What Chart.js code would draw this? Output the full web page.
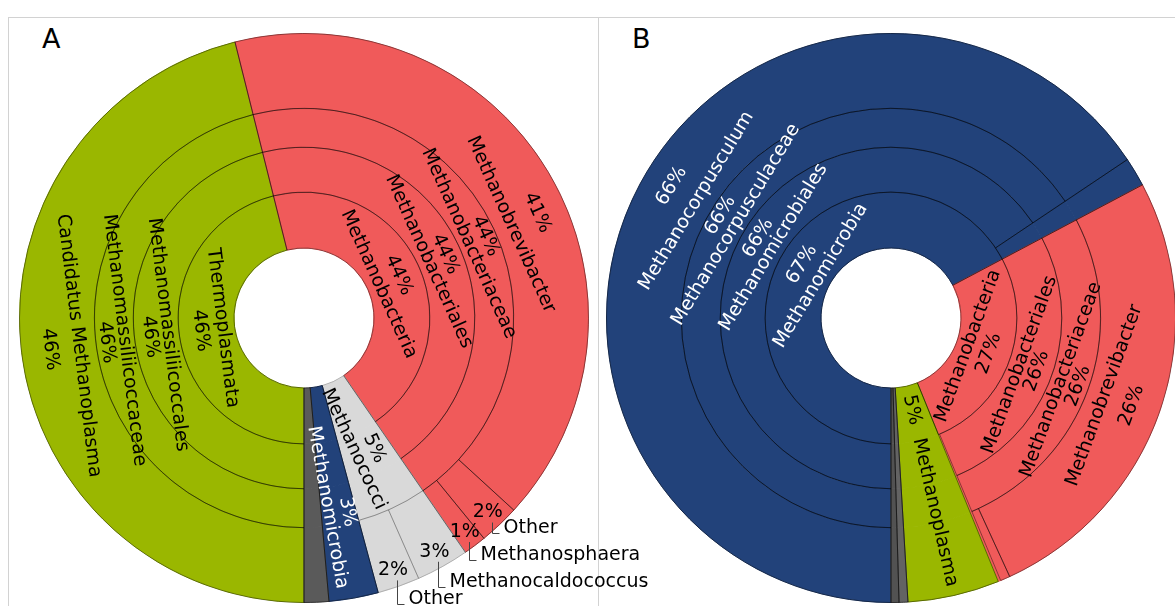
<!DOCTYPE html>
<html><head><meta charset="utf-8">
<script src="https://cdn.jsdelivr.net/npm/chart.js@4/dist/chart.umd.min.js"></script>
<style>
html,body{margin:0;padding:0;background:#fff;width:1175px;height:606px;overflow:hidden;position:relative;font-family:"DejaVu Sans",sans-serif;}
.frame{position:absolute;border:1px solid #d2d2d2;border-bottom:none;box-sizing:border-box;}
.tag{position:absolute;font-size:27px;line-height:27px;color:#000;font-family:"DejaVu Sans",sans-serif;}
canvas{position:absolute;left:0;top:0;}
</style></head><body>
<div class="frame" style="left:8px;top:17px;width:591px;height:600px;"></div>
<div class="frame" style="left:598px;top:17px;width:600px;height:600px;border-left:none;border-right:none"></div>
<div class="tag" style="left:42px;top:25px;">A</div>
<div class="tag" style="left:632px;top:25px;">B</div>
<canvas id="cA" width="1180" height="606"></canvas>
<canvas id="cB" width="1180" height="606"></canvas>
<script>
// ---------- Panel A data (percent of reads) ----------
const A_class = ['Thermoplasmata','Methanobacteria','Methanococci','Methanomicrobia',''];
const A_classPct = [46.1, 44.3, 5.4, 2.8, 1.4];
const A_order = ['Methanomassiliicoccales','Methanobacteriales'];
const A_orderPct = [46.1, 44.3];
const A_orderParent = ['Thermoplasmata','Methanobacteria'];
const A_family = ['Methanomassiliicoccaceae','Methanobacteriaceae'];
const A_familyPct = [46.1, 44.3];
const A_familyParent = ['Methanomassiliicoccales','Methanobacteriales'];
const A_genus = ['Candidatus Methanoplasma','Methanobrevibacter','Other','Methanosphaera','Methanocaldococcus','Other'];
const A_genusPct = [46.1, 40.7, 2.3, 1.3, 3.0, 2.4];
const A_genusParent = ['Methanomassiliicoccaceae','Methanobacteriaceae','Methanobacteriaceae','Methanobacteriaceae','Methanococci','Methanococci'];

// ---------- Panel B data ----------
const B_class = ['Methanomicrobia','Methanobacteria','Methanoplasma','',''];
const B_classPct = [67.25, 26.6, 5.2, 0.5, 0.45];
const B_order = ['Methanomicrobiales','','Methanobacteriales'];
const B_orderPct = [65.6, 1.65, 26.45];
const B_orderParent = ['Methanomicrobia','Methanomicrobia','Methanobacteria'];
const B_family = ['Methanocorpusculaceae','Methanobacteriaceae'];
const B_familyPct = [65.6, 26.45];
const B_familyParent = ['Methanomicrobiales','Methanobacteriales'];
const B_genus = ['Methanocorpusculum','Methanobrevibacter',''];
const B_genusPct = [65.6, 25.9, 0.55];
const B_genusParent = ['Methanocorpusculaceae','Methanobacteriaceae','Methanobacteriaceae'];

// ---------- styles / layout ----------
const PALETTE_A = ['#9ab700','#f05a5a','#d9d9d9','#22427a','#5a5a5a'];
const PALETTE_B = ['#22427a','#f05a5a','#9ab700','#636363','#525252'];
const LIGHT_FILLS = {'#d9d9d9':true};
const WHITE_TEXT = {'#22427a':true};
const RING_WEIGHTS = [56, 45, 39, 75];          // class, order, family, genus ring thickness
const LABEL_R = [[82,104],[137,155],[181,199],[227,256]]; // name / percent radius per ring
const LABEL_MODE = {'Methanoplasma':'inline'};
const FONT = '19px "DejaVu Sans"';
const W = 1180, H = 606, R = 285;

function buildTree(levels) {
  const rings = [], nodes = [];
  let prev = [];
  levels[0].names.forEach((n, i) => {
    const node = {name:n, value:levels[0].pct[i], ring:0, lastRing:0, cls:i, parent:null, segIndex:i};
    nodes.push(node);
    prev.push({node, value:node.value, full:true});
  });
  rings.push(prev);
  for (let k = 1; k < levels.length; k++) {
    const L = levels[k], cur = [];
    prev.forEach(seg => {
      const owner = seg.node;
      let used = 0;
      L.names.forEach((n, i) => {
        if (owner.name && L.parents[i] === owner.name) {
          const node = {name:n, value:L.pct[i], ring:k, lastRing:k, cls:owner.cls, parent:owner, segIndex:cur.length};
          nodes.push(node);
          cur.push({node, value:node.value, full:true});
          used += node.value;
        }
      });
      const rem = seg.value - used;
      if (rem > 1e-6) {
        const full = seg.full && used === 0;
        cur.push({node:owner, value:rem, full});
        if (full) owner.lastRing = k;
      }
    });
    rings.push(cur); prev = cur;
  }
  return {rings, nodes};
}

function normRot(r) {
  let t = ((r + Math.PI/2) % (2*Math.PI) + 2*Math.PI) % (2*Math.PI) - Math.PI/2;
  let flipped = false;
  if (t > Math.PI/2) { t -= Math.PI; flipped = true; }
  return {rot:t, flipped};
}

function sunPlugin(tree, palette) {
  return {
    id:'sun',
    afterDatasetsDraw(chart) {
      const ctx = chart.ctx;
      const nR = tree.rings.length;
      tree.nodes.forEach(node => {
        const el = chart.getDatasetMeta(nR-1-node.ring).data[node.segIndex];
        const outer = chart.getDatasetMeta(nR-1-node.lastRing).data[0].outerRadius;
        node.g = {x:el.x, y:el.y, s:el.startAngle, e:el.endAngle, rIn:el.innerRadius, rOut:outer};
      });
      ctx.save();
      // outlines
      tree.nodes.forEach(node => {
        const g = node.g, fill = palette[node.cls];
        ctx.beginPath();
        ctx.arc(g.x, g.y, g.rOut, g.s, g.e);
        ctx.arc(g.x, g.y, g.rIn, g.e, g.s, true);
        ctx.closePath();
        ctx.lineWidth = 1;
        ctx.strokeStyle = LIGHT_FILLS[fill] ? 'rgba(0,0,0,0.2)' : 'rgba(0,0,0,0.42)';
        ctx.stroke();
      });
      // label angles (aligned with ancestors when possible)
      tree.nodes.forEach(node => {
        const g = node.g, mid = (g.s + g.e) / 2;
        let la = mid;
        if (node.parent && node.parent.la !== undefined) {
          const p = node.parent.la;
          if (p > g.s + 0.05 && p < g.e - 0.05) la = p;
        }
        node.la = la;
      });
      ctx.font = FONT;
      let prevBase = -1e9;
      tree.nodes.forEach(node => {
        if (!node.name) return;
        const g = node.g, fill = palette[node.cls];
        const width = g.e - g.s;
        const pct = Math.round(node.value) + '%';
        const deg = width * 180 / Math.PI;
        let mode = LABEL_MODE[node.name];
        if (!mode) {
          if (node.ring === nR - 1 && deg < 14) mode = 'external';
          else if (deg < 30) mode = 'radial';
          else mode = 'tangential';
        }
        ctx.fillStyle = WHITE_TEXT[fill] ? '#fff' : '#000';
        if (mode === 'tangential') {
          const {rot} = normRot(node.la + Math.PI/2);
          const [rn, rp] = LABEL_R[node.ring];
          [[node.name, rn], [pct, rp]].forEach(([t, r]) => {
            ctx.save();
            ctx.translate(g.x + r*Math.cos(node.la), g.y + r*Math.sin(node.la));
            ctx.rotate(rot);
            ctx.textAlign = 'center'; ctx.textBaseline = 'middle';
            ctx.fillText(t, 0, 0);
            ctx.restore();
          });
        } else if (mode === 'radial' || mode === 'inline') {
          const {rot, flipped} = normRot(node.la);
          const sg = flipped ? -1 : 1;
          const nameW = ctx.measureText(node.name).width;
          const pctW = ctx.measureText(pct).width;
          const minStart = 19 / width;
          ctx.save();
          ctx.translate(g.x, g.y);
          ctx.rotate(rot);
          ctx.textAlign = 'center'; ctx.textBaseline = 'middle';
          if (mode === 'radial') {
            const start = Math.max(g.rIn + (g.rOut - g.rIn - nameW) / 2, minStart);
            const rc = start + nameW / 2;
            ctx.fillText(node.name, sg*rc, sg*10);
            ctx.fillText(pct, sg*(rc + 8), sg*-9);
          } else {
            const total = pctW + 14 + nameW;
            const start = Math.max(g.rIn + (g.rOut - g.rIn - total) / 2, minStart);
            ctx.fillText(pct, sg*(start + pctW/2), 0);
            ctx.fillText(node.name, sg*(start + pctW + 14 + nameW/2), 0);
          }
          ctx.restore();
        } else {
          const m = (g.s + g.e) / 2;
          const rr = g.rIn + 58;
          const px = g.x + rr*Math.cos(m), py = g.y + rr*Math.sin(m);
          ctx.fillStyle = '#000';
          ctx.textAlign = 'center'; ctx.textBaseline = 'middle';
          ctx.fillText(pct, px, py);
          const base = Math.min(Math.max(py + 20, prevBase + 27), H - 2);
          prevBase = base;
          const vx = Math.round(px + 4) + 0.5;
          const by = Math.round(base) + 0.5;
          ctx.beginPath();
          ctx.moveTo(vx, py + 10);
          ctx.lineTo(vx, by);
          ctx.lineTo(vx + 7, by);
          ctx.strokeStyle = '#444'; ctx.lineWidth = 1;
          ctx.stroke();
          ctx.textAlign = 'left'; ctx.textBaseline = 'alphabetic';
          ctx.fillText(node.name, vx + 11, base);
        }
      });
      ctx.restore();
    }
  };
}

function makeChart(id, levels, palette, cx, cy) {
  const tree = buildTree(levels);
  const datasets = [];
  for (let k = tree.rings.length - 1; k >= 0; k--) {
    const segs = tree.rings[k];
    const cols = segs.map(s => palette[s.node.cls]);
    datasets.push({data:segs.map(s => s.value), backgroundColor:cols, borderColor:cols,
                   borderWidth:1, weight:RING_WEIGHTS[k], hoverOffset:0});
  }
  return new Chart(document.getElementById(id), {
    type:'doughnut',
    data:{datasets},
    options:{
      responsive:false, animation:false, events:[],
      rotation:180, circumference:360, cutout:70,
      layout:{padding:{left:cx-R, top:cy-R, right:W-cx-R, bottom:H-cy-R}},
      plugins:{legend:{display:false}, tooltip:{enabled:false}}
    },
    plugins:[sunPlugin(tree, palette)]
  });
}

makeChart('cA', [
  {names:A_class, pct:A_classPct},
  {names:A_order, pct:A_orderPct, parents:A_orderParent},
  {names:A_family, pct:A_familyPct, parents:A_familyParent},
  {names:A_genus, pct:A_genusPct, parents:A_genusParent}
], PALETTE_A, 304, 318);

makeChart('cB', [
  {names:B_class, pct:B_classPct},
  {names:B_order, pct:B_orderPct, parents:B_orderParent},
  {names:B_family, pct:B_familyPct, parents:B_familyParent},
  {names:B_genus, pct:B_genusPct, parents:B_genusParent}
], PALETTE_B, 891, 318);
</script>
</body></html>
